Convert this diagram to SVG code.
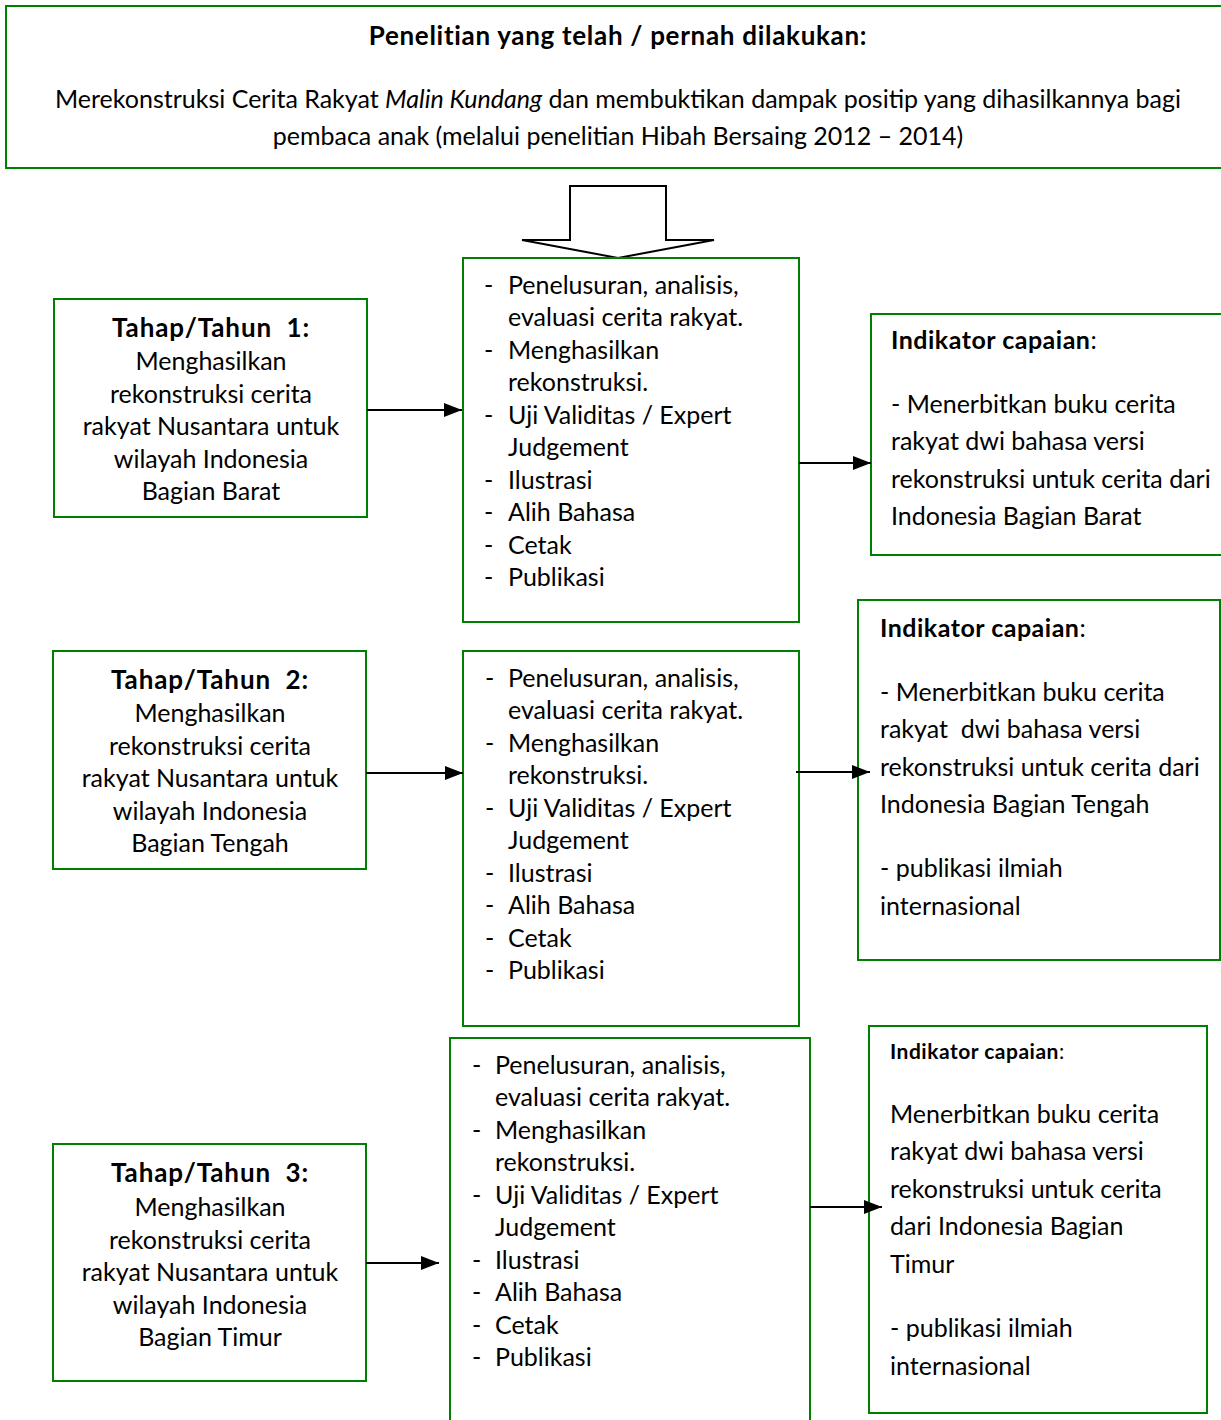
<svg xmlns="http://www.w3.org/2000/svg" width="1221" height="1420" viewBox="0 0 1221 1420">
<style>
.box{fill:#fff;stroke:#008000;stroke-width:2}
text{font-family:Lato,"Liberation Sans",sans-serif;font-size:25px;fill:#000;white-space:pre}
.c{text-anchor:middle}
.b{font-weight:bold;letter-spacing:0.5px}
.t{font-size:26px;font-weight:bold;letter-spacing:0.9px}
.hd{font-size:26px;font-weight:bold;letter-spacing:0.7px}
.conn{stroke:#000;stroke-width:2;fill:none;marker-end:url(#ah)}
</style>
<defs>
<marker id="ah" markerWidth="18" markerHeight="14" refX="18" refY="7" orient="auto" markerUnits="userSpaceOnUse">
<path d="M0,0 L18,7 L0,14 z" fill="#000"/>
</marker>
</defs>

<g id="top">
<rect class="box" x="6" y="6" width="1230" height="162"/>
<text class="c hd" x="618" y="45">Penelitian yang telah / pernah dilakukan:</text>
<text class="c" x="618" y="108">Merekonstruksi Cerita Rakyat <tspan font-style="italic">Malin Kundang</tspan> dan membuktikan dampak positip yang dihasilkannya bagi</text>
<text class="c" x="618" y="145">pembaca anak (melalui penelitian Hibah Bersaing 2012 – 2014)</text>
</g>

<g id="bigarrow">
<path d="M570,186 L666,186 L666,240 L714,240 L618,258 L522,240 L570,240 Z" fill="#fff" stroke="#000" stroke-width="2"/>
</g>

<g id="left1">
<rect class="box" x="54" y="299" width="313" height="218"/>
<text class="c t" x="211" y="337">Tahap/Tahun  1:</text>
<text class="c" x="211" y="370">Menghasilkan</text>
<text class="c" x="211" y="403">rekonstruksi cerita</text>
<text class="c" x="211" y="435">rakyat Nusantara untuk</text>
<text class="c" x="211" y="468">wilayah Indonesia</text>
<text class="c" x="211" y="500">Bagian Barat</text>
</g>

<g id="mid1">
<rect class="box" x="463" y="258" width="336" height="364"/>
<text x="484" y="294">-</text><text x="508" y="294">Penelusuran, analisis,</text>
<text x="508" y="326">evaluasi cerita rakyat.</text>
<text x="484" y="359">-</text><text x="508" y="359">Menghasilkan</text>
<text x="508" y="391">rekonstruksi.</text>
<text x="484" y="424">-</text><text x="508" y="424">Uji Validitas / Expert</text>
<text x="508" y="456">Judgement</text>
<text x="484" y="489">-</text><text x="508" y="489">Ilustrasi</text>
<text x="484" y="521">-</text><text x="508" y="521">Alih Bahasa</text>
<text x="484" y="554">-</text><text x="508" y="554">Cetak</text>
<text x="484" y="586">-</text><text x="508" y="586">Publikasi</text>
</g>

<g id="right1">
<rect class="box" x="871" y="314" width="360" height="241"/>
<text x="891" y="349"><tspan class="b">Indikator capaian</tspan>:</text>
<text x="891" y="413">- Menerbitkan buku cerita</text>
<text x="891" y="450">rakyat dwi bahasa versi</text>
<text x="891" y="488">rekonstruksi untuk cerita dari</text>
<text x="891" y="525">Indonesia Bagian Barat</text>
</g>

<g id="left2">
<rect class="box" x="53" y="651" width="313" height="218"/>
<text class="c t" x="210" y="689">Tahap/Tahun  2:</text>
<text class="c" x="210" y="722">Menghasilkan</text>
<text class="c" x="210" y="755">rekonstruksi cerita</text>
<text class="c" x="210" y="787">rakyat Nusantara untuk</text>
<text class="c" x="210" y="820">wilayah Indonesia</text>
<text class="c" x="210" y="852">Bagian Tengah</text>
</g>

<g id="mid2">
<rect class="box" x="463" y="651" width="336" height="375"/>
<text x="485" y="687">-</text><text x="508" y="687">Penelusuran, analisis,</text>
<text x="508" y="719">evaluasi cerita rakyat.</text>
<text x="485" y="752">-</text><text x="508" y="752">Menghasilkan</text>
<text x="508" y="784">rekonstruksi.</text>
<text x="485" y="817">-</text><text x="508" y="817">Uji Validitas / Expert</text>
<text x="508" y="849">Judgement</text>
<text x="485" y="882">-</text><text x="508" y="882">Ilustrasi</text>
<text x="485" y="914">-</text><text x="508" y="914">Alih Bahasa</text>
<text x="485" y="947">-</text><text x="508" y="947">Cetak</text>
<text x="485" y="979">-</text><text x="508" y="979">Publikasi</text>
</g>

<g id="right2">
<rect class="box" x="858" y="600" width="362" height="360"/>
<text x="880" y="637"><tspan class="b">Indikator capaian</tspan>:</text>
<text x="880" y="701">- Menerbitkan buku cerita</text>
<text x="880" y="738">rakyat  dwi bahasa versi</text>
<text x="880" y="776">rekonstruksi untuk cerita dari</text>
<text x="880" y="813">Indonesia Bagian Tengah</text>
<text x="880" y="877">- publikasi ilmiah</text>
<text x="880" y="915">internasional</text>
</g>

<g id="left3">
<rect class="box" x="53" y="1144" width="313" height="237"/>
<text class="c t" x="210" y="1182">Tahap/Tahun  3:</text>
<text class="c" x="210" y="1216">Menghasilkan</text>
<text class="c" x="210" y="1249">rekonstruksi cerita</text>
<text class="c" x="210" y="1281">rakyat Nusantara untuk</text>
<text class="c" x="210" y="1314">wilayah Indonesia</text>
<text class="c" x="210" y="1346">Bagian Timur</text>
</g>

<g id="mid3">
<rect class="box" x="450" y="1038" width="360" height="400"/>
<text x="472" y="1074">-</text><text x="495" y="1074">Penelusuran, analisis,</text>
<text x="495" y="1106">evaluasi cerita rakyat.</text>
<text x="472" y="1139">-</text><text x="495" y="1139">Menghasilkan</text>
<text x="495" y="1171">rekonstruksi.</text>
<text x="472" y="1204">-</text><text x="495" y="1204">Uji Validitas / Expert</text>
<text x="495" y="1236">Judgement</text>
<text x="472" y="1269">-</text><text x="495" y="1269">Ilustrasi</text>
<text x="472" y="1301">-</text><text x="495" y="1301">Alih Bahasa</text>
<text x="472" y="1334">-</text><text x="495" y="1334">Cetak</text>
<text x="472" y="1366">-</text><text x="495" y="1366">Publikasi</text>
</g>

<g id="right3">
<rect class="box" x="869" y="1026" width="338" height="387"/>
<text x="890" y="1059" style="font-size:21px"><tspan class="b">Indikator capaian</tspan>:</text>
<text x="890" y="1123">Menerbitkan buku cerita</text>
<text x="890" y="1160">rakyat dwi bahasa versi</text>
<text x="890" y="1198">rekonstruksi untuk cerita</text>
<text x="890" y="1235">dari Indonesia Bagian</text>
<text x="890" y="1273">Timur</text>
<text x="890" y="1337">- publikasi ilmiah</text>
<text x="890" y="1375">internasional</text>
</g>

<g id="connectors">
<line class="conn" x1="367" y1="410" x2="462" y2="410"/>
<line class="conn" x1="799" y1="463" x2="871" y2="463"/>
<line class="conn" x1="366" y1="773" x2="463" y2="773"/>
<line class="conn" x1="796" y1="772" x2="870" y2="772"/>
<line class="conn" x1="366" y1="1263" x2="439" y2="1263"/>
<line class="conn" x1="810" y1="1207" x2="882" y2="1207"/>
</g>
</svg>
